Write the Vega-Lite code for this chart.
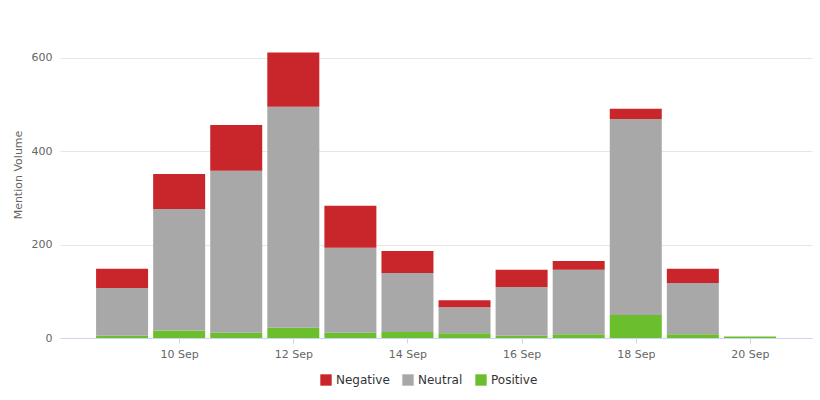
{
  "$schema": "https://vega.github.io/schema/vega-lite/v6.json",
  "width": 752,
  "height": 327,
  "autosize": "none",
  "padding": {"left": 60, "top": 11, "right": 8, "bottom": 62},
  "background": "white",
  "config": {
    "view": {"stroke": null},
    "font": "DejaVu Sans"
  },
  "data": {
    "values": [
      {"date": "2015-09-09", "sentiment": "Positive", "value": 5},
      {"date": "2015-09-09", "sentiment": "Neutral", "value": 102},
      {"date": "2015-09-09", "sentiment": "Negative", "value": 41},
      {"date": "2015-09-10", "sentiment": "Positive", "value": 16},
      {"date": "2015-09-10", "sentiment": "Neutral", "value": 260},
      {"date": "2015-09-10", "sentiment": "Negative", "value": 75},
      {"date": "2015-09-11", "sentiment": "Positive", "value": 11},
      {"date": "2015-09-11", "sentiment": "Neutral", "value": 347},
      {"date": "2015-09-11", "sentiment": "Negative", "value": 98},
      {"date": "2015-09-12", "sentiment": "Positive", "value": 22},
      {"date": "2015-09-12", "sentiment": "Neutral", "value": 473},
      {"date": "2015-09-12", "sentiment": "Negative", "value": 116},
      {"date": "2015-09-13", "sentiment": "Positive", "value": 11},
      {"date": "2015-09-13", "sentiment": "Neutral", "value": 182},
      {"date": "2015-09-13", "sentiment": "Negative", "value": 90},
      {"date": "2015-09-14", "sentiment": "Positive", "value": 13},
      {"date": "2015-09-14", "sentiment": "Neutral", "value": 126},
      {"date": "2015-09-14", "sentiment": "Negative", "value": 47},
      {"date": "2015-09-15", "sentiment": "Positive", "value": 10},
      {"date": "2015-09-15", "sentiment": "Neutral", "value": 56},
      {"date": "2015-09-15", "sentiment": "Negative", "value": 15},
      {"date": "2015-09-16", "sentiment": "Positive", "value": 5},
      {"date": "2015-09-16", "sentiment": "Neutral", "value": 104},
      {"date": "2015-09-16", "sentiment": "Negative", "value": 37},
      {"date": "2015-09-17", "sentiment": "Positive", "value": 8},
      {"date": "2015-09-17", "sentiment": "Neutral", "value": 138},
      {"date": "2015-09-17", "sentiment": "Negative", "value": 19},
      {"date": "2015-09-18", "sentiment": "Positive", "value": 49},
      {"date": "2015-09-18", "sentiment": "Neutral", "value": 420},
      {"date": "2015-09-18", "sentiment": "Negative", "value": 22},
      {"date": "2015-09-19", "sentiment": "Positive", "value": 8},
      {"date": "2015-09-19", "sentiment": "Neutral", "value": 110},
      {"date": "2015-09-19", "sentiment": "Negative", "value": 30},
      {"date": "2015-09-20", "sentiment": "Positive", "value": 3},
      {"date": "2015-09-20", "sentiment": "Neutral", "value": 0},
      {"date": "2015-09-20", "sentiment": "Negative", "value": 0}
    ]
  },
  "mark": {"type": "bar", "width": 52},
  "encoding": {
    "x": {
      "field": "date",
      "type": "temporal",
      "scale": {
        "type": "utc",
        "domain": [
          {"year": 2015, "month": 9, "date": 8, "utc": true},
          {"year": 2015, "month": 9, "date": 21, "utc": true}
        ]
      },
      "axis": {
        "title": null,
        "format": "%d %b",
        "values": [
          {"year": 2015, "month": 9, "date": 10, "utc": true},
          {"year": 2015, "month": 9, "date": 12, "utc": true},
          {"year": 2015, "month": 9, "date": 14, "utc": true},
          {"year": 2015, "month": 9, "date": 16, "utc": true},
          {"year": 2015, "month": 9, "date": 18, "utc": true},
          {"year": 2015, "month": 9, "date": 20, "utc": true}
        ],
        "grid": false,
        "domainColor": "#ccd6eb",
        "tickColor": "#ccd6eb",
        "tickSize": 5,
        "labelColor": "#666666",
        "labelFontSize": 11,
        "labelPadding": 5,
        "labelFlush": false
      }
    },
    "y": {
      "field": "value",
      "type": "quantitative",
      "stack": "zero",
      "scale": {"domain": [0, 700], "nice": false},
      "axis": {
        "title": "Mention Volume",
        "titleColor": "#666666",
        "titleFontSize": 11,
        "titleFontWeight": "normal",
        "titlePadding": 8,
        "values": [0, 200, 400, 600],
        "domain": false,
        "ticks": false,
        "gridColor": "#e6e6e6",
        "labelColor": "#666666",
        "labelFontSize": 11,
        "labelPadding": 8
      }
    },
    "color": {
      "field": "sentiment",
      "type": "nominal",
      "scale": {
        "domain": ["Negative", "Neutral", "Positive"],
        "range": ["#c9262c", "#a8a8a8", "#6bbf2d"]
      },
      "legend": {
        "title": null,
        "orient": "none",
        "legendX": 260,
        "legendY": 363,
        "direction": "horizontal",
        "symbolType": "square",
        "symbolSize": 130,
        "symbolStrokeWidth": 0,
        "labelFontSize": 12,
        "labelColor": "#333333",
        "columnPadding": 12
      }
    },
    "order": {"field": "sentiment", "sort": "descending"}
  }
}
